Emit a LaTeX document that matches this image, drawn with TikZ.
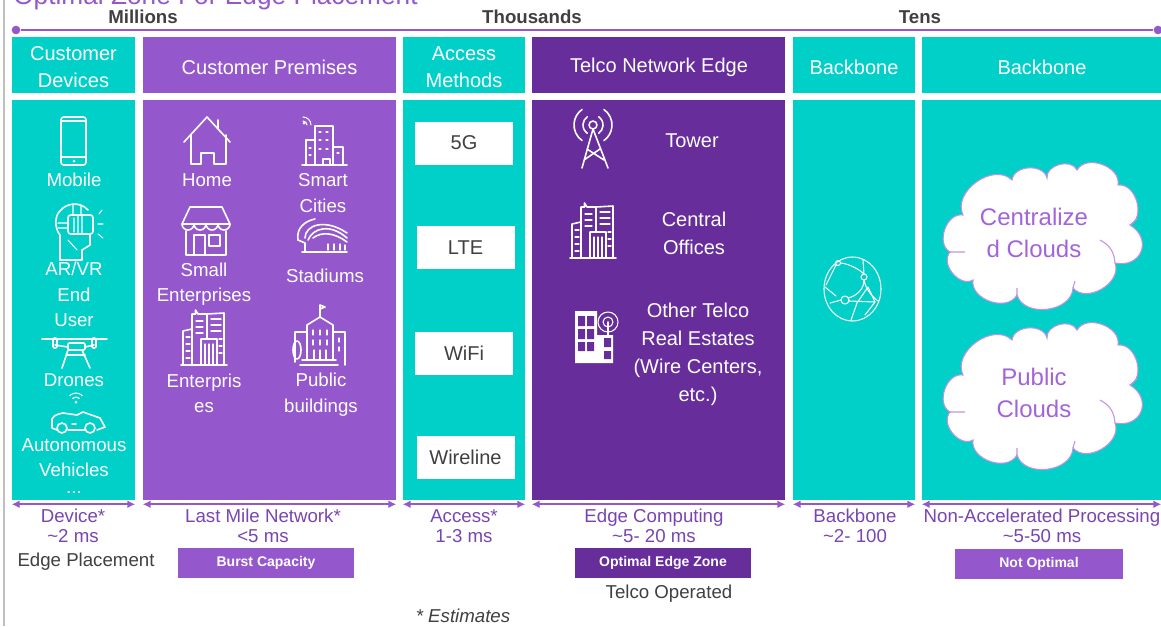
\documentclass[tikz,border=0pt]{standalone}
\usepackage{fontspec}
\setmainfont{Liberation Sans}
\usetikzlibrary{arrows.meta}
\definecolor{tealbox}{HTML}{00D0C8}
\definecolor{lilac}{HTML}{9558CC}
\definecolor{darkviolet}{HTML}{662D9B}
\definecolor{latency}{HTML}{7A45B0}
\definecolor{inktext}{HTML}{404040}
\definecolor{cloudtext}{HTML}{A264DA}
\tikzset{
  hcell/.style 2 args={minimum width=#1*0.75pt, minimum height=#2*0.75pt, inner sep=0pt, text=white, align=center, font=\fontsize{15}{20}\selectfont},
  hdr/.style={text=white, align=center, inner sep=0pt, font=\fontsize{15}{20}\selectfont},
  lbl/.style={text=white, align=center, inner sep=0pt, font=\fontsize{14}{19}\selectfont},
  telco/.style={text=white, align=center, inner sep=0pt, font=\fontsize{15}{21}\selectfont},
  acc/.style={hcell={98}{43}, fill=white, text=inktext},
  lat/.style={text=latency, align=center, inner sep=0pt, font=\fontsize{14}{15}\selectfont},
  ink/.style={text=inktext, inner sep=0pt, font=\fontsize{14}{16}\selectfont},
  scale lbl/.style={text=inktext, inner sep=0pt, font=\fontsize{14}{16}\selectfont\bfseries},
  tag/.style={hcell={#1}{30}, font=\fontsize{10.5}{12}\selectfont\bfseries},
  cloudlbl/.style={text=cloudtext, align=center, inner sep=0pt, font=\fontsize{18}{24}\selectfont},
  dot/.style={circle, fill=lilac, inner sep=0pt, minimum size=6.5pt},
  span/.style={lilac, line width=1.4pt, {Latex[length=6pt,width=6pt]}-{Latex[length=6pt,width=6pt]}},
  iconline/.style={white, line width=1.2pt, line join=round, line cap=round},
  thinline/.style={white, line width=0.8pt, line join=round, line cap=round},
  lobe/.style={bend left=80, looseness=1.1},
  pics/offices/.style={code={
    \draw[iconline] (0,55) -- (46,55);
    \draw[iconline] (11,19) -- (2,21) -- (2,55) (11,55) -- (11,4) -- (14.5,4) -- (14.5,0) -- (17,4) -- (26,4) -- (26,29);
    \draw[iconline] (26,4) -- (43,3) -- (43,55) (20,55) -- (20,29) -- (36,29) -- (36,55);
    \draw[thinline] (24,34) -- (24,55) (28,34) -- (28,55) (32,34) -- (32,55);
    \draw[thinline] (5,27) -- (9,27) (5,34) -- (9,34) (5,41) -- (9,41) (5,48) -- (9,48);
    \draw[thinline] (15,11) -- (22,11) (15,17) -- (22,17) (15,23) -- (22,23);
    \draw[thinline] (30,9) -- (40,9) (30,15) -- (40,15) (30,21) -- (40,21) (38,29) -- (41,29) (38,36) -- (41,36) (38,43) -- (41,43);
  }},
  pics/bigcloud/.style={code={
    \draw[fill=white, draw=cloudtext!70, line width=0.8pt]
      (-79,-22) to[lobe] (-30,-57) to[lobe] (5,-59) to[lobe] (35,-67) to[lobe] (76,-52)
      to[lobe] (88,-12) to[bend left=80, looseness=1.7] (73,26) to[lobe] (31,51) to[lobe] (-25,58)
      to[lobe] (-69,43) to[lobe] (-92,15) to[lobe] (-79,-22) -- cycle;
    \draw[draw=cloudtext!70, line width=0.8pt] (-92,15) -- (-77,15) (58,3) to[bend left=30] (73,26) (33,44) -- (31,51) (-25,51) -- (-25,58) (88,-12) -- (95,-18);
  }}
}
\begin{document}
\begin{tikzpicture}[x=0.75pt, y=-0.75pt]
  \clip (0,0) rectangle (1161,626);
  \fill[white] (0,0) rectangle (1161,626);
  \draw[black!25, line width=0.8pt] (4,0) -- (4,626);
  %title
  \draw (13,4) node[anchor=base west, inner sep=0pt, text=lilac, font=\fontsize{19.7}{22}\selectfont](title){Optimal Zone For Edge Placement};
  %scale
  \draw (143,17) node[scale lbl](s1){Millions}
  (532,17) node[scale lbl](s2){Thousands}
  (920,17) node[scale lbl](s3){Tens}
  (16,30) node[dot](ax1){}
  (1158,30) node[dot](ax2){};
  \draw[lilac, line width=1.5pt] (ax1) -- (ax2);
  %headers
  \draw (73.5,65) node[hcell={123}{56}, fill=tealbox](h1){}
  (269.5,65) node[hcell={253}{56}, fill=lilac](h2){}
  (464,65) node[hcell={122}{56}, fill=tealbox](h3){}
  (658.5,65) node[hcell={253}{56}, fill=darkviolet](h4){}
  (854,65) node[hcell={122}{56}, fill=tealbox](h5){}
  (1041.5,65) node[hcell={239}{56}, fill=tealbox](h6){};
  \draw (73.5,67) node[hdr](ht1){Customer\\Devices}
  (269.5,67) node[hdr](ht2){Customer Premises}
  (464,67) node[hdr](ht3){Access\\Methods}
  (659,67) node[hdr](ht4){Telco Network Edge}
  (854,67) node[hdr](ht5){Backbone}
  (1042,67) node[hdr](ht6){Backbone};
  %columns
  \draw (73.5,300) node[hcell={123}{400}, fill=tealbox](b1){}
  (269.5,300) node[hcell={253}{400}, fill=lilac](b2){}
  (464,300) node[hcell={122}{400}, fill=tealbox](b3){}
  (658.5,300) node[hcell={253}{400}, fill=darkviolet](b4){}
  (854,300) node[hcell={122}{400}, fill=tealbox](b5){}
  (1041.5,300) node[hcell={239}{400}, fill=tealbox](b6){};
  %spans
  \draw[span] ([yshift=-3pt]b1.south west) -- ([yshift=-3pt]b1.south east);
  \draw[span] ([yshift=-3pt]b2.south west) -- ([yshift=-3pt]b2.south east);
  \draw[span] ([yshift=-3pt]b3.south west) -- ([yshift=-3pt]b3.south east);
  \draw[span] ([yshift=-3pt]b4.south west) -- ([yshift=-3pt]b4.south east);
  \draw[span] ([yshift=-3pt]b5.south west) -- ([yshift=-3pt]b5.south east);
  \draw[span] ([yshift=-3pt]b6.south west) -- ([yshift=-3pt]b6.south east);
  %device labels
  \draw (74,180) node[lbl](mobile){Mobile}
  (74,294.5) node[lbl](arvr){AR/VR\\End\\User}
  (74,380) node[lbl](drones){Drones}
  (74,457.5) node[lbl](auto){Autonomous\\Vehicles}
  (74,492) node[lbl](more){...};
  %premises labels
  \draw (207,180) node[lbl](home){Home}
  (323,193) node[lbl](smart){Smart\\Cities}
  (204,284) node[lbl](small){Small\\Enterprises}
  (325,276) node[lbl](stadium){Stadiums}
  (204,393) node[lbl](enter){Enterpris\\es}
  (321,394.5) node[lbl](public){Public\\buildings};
  %access
  \draw (464,143) node[acc](a1){5G}
  (465.5,247.5) node[acc](a2){LTE}
  (464,353) node[acc](a3){WiFi}
  (465.5,457.5) node[acc](a4){Wireline};
  %telco labels
  \draw (692,141) node[telco](tower){Tower}
  (694,233.5) node[telco](central){Central\\Offices}
  (698,354.5) node[telco](other){Other Telco\\Real Estates\\(Wire Centers,\\etc.)};
  %clouds
  \draw (1042,237) pic{bigcloud};
  \draw (1042,397) pic{bigcloud};
  \draw (1034,233) node[cloudlbl](c1){Centralize\\d Clouds}
  (1034,393) node[cloudlbl](c2){Public\\Clouds};
  %latency
  \draw (73,526) node[lat](l1){Device*\\\textasciitilde2 ms}
  (263,526) node[lat](l2){Last Mile Network*\\<5 ms}
  (464,526) node[lat](l3){Access*\\1-3 ms}
  (654,526) node[lat](l4){Edge Computing\\\textasciitilde5- 20 ms}
  (855,526) node[lat](l5){Backbone\\\textasciitilde2- 100}
  (1042,526) node[lat](l6){Non-Accelerated Processing\\\textasciitilde5-50 ms};
  %tags
  \draw (86,561.5) node[ink](place){Edge Placement}
  (266,563) node[tag=176, fill=lilac](t1){Burst Capacity}
  (663,563) node[tag=176, fill=darkviolet](t2){Optimal Edge Zone}
  (1039,564) node[tag=168, fill=lilac](t3){Not Optimal}
  (669,594) node[ink](oper){Telco Operated}
  (463,616) node[ink, font=\fontsize{14}{16}\selectfont\itshape](est){* Estimates};
  %mobile
  \draw[iconline, rounded corners=2pt] (61,117) rectangle (86,165);
  \draw[thinline] (61,121) -- (86,121) (61,157) -- (86,157);
  \fill[white] (74,161) circle[radius=1.5];
  %head
  \draw[iconline] (60,260) -- (60,235) .. controls (54,228) and (55,215) .. (60,211) .. controls (66,203) and (80,201) .. (88,210);
  \draw[iconline] (60,260) -- (82,260) -- (82,250) -- (90,245) -- (90,235);
  \draw[iconline, rounded corners=2pt] (68,215) rectangle (93,234);
  \draw[thinline] (74,218) -- (74,232) (78,215) -- (78,234) (82,215) -- (82,234) (58,223) -- (68,223) (58,228) -- (68,228) (68,240) -- (77,250) (73,205) -- (73,215) (81,205) -- (81,215);
  \draw[thinline] (102,210) -- (99,214) (98,224) -- (103,224) (98,234) -- (103,238);
  %drone
  \draw[iconline] (42,339) -- (107,339) (55,345) -- (68,347) (94,345) -- (85,347);
  \draw[iconline, rounded corners=1pt] (53,338) rectangle (57,348) (92,338) rectangle (96,348) (68,343) rectangle (85,350);
  \draw[iconline] (68,350) -- (62,368) (82,350) -- (90,368) (67,355) -- (85,355);
  %wifi
  \fill[white] (76,402) circle[radius=1.5];
  \draw[thinline] (76,402) ++(-135:5) arc[start angle=-135, end angle=-45, radius=5];
  \draw[thinline] (76,402) ++(-135:9) arc[start angle=-135, end angle=-45, radius=9];
  %car
  \draw[iconline] (57,430) -- (52,428) -- (52,419) .. controls (54,415) and (58,414) .. (63,413) -- (77,415) -- (83,412) -- (100,418) -- (105,427) -- (97,430) (85,430) -- (68,430);
  \draw[iconline] (62,428) circle[radius=5] (90,428) circle[radius=5];
  \draw[thinline] (72,424) -- (76,424);
  %home
  \draw[iconline] (184,142) -- (207,117) -- (230,142) (218,120) -- (218,129);
  \draw[iconline] (191,135) -- (191,164) -- (201,164) -- (201,153) -- (214,153) -- (214,164) -- (226,164) -- (226,135);
  %smart city
  \draw[iconline] (302,165) -- (347,165);
  \draw[iconline] (315,165) -- (315,126) -- (333,126) -- (333,165) (315,140) -- (306,140) -- (306,165) (333,147) -- (343,147) -- (343,165) (323,165) -- (323,159) -- (330,159) -- (330,165);
  \draw[thinline] (319,132) -- (321,132) (326,132) -- (328,132) (319,140) -- (321,140) (326,140) -- (328,140) (319,149) -- (321,149) (326,149) -- (328,149) (309,148) -- (311,148) (309,155) -- (311,155) (337,153) -- (339,153);
  \draw[thinline] (303,125) ++(-90:4) arc[start angle=-90, end angle=0, radius=4];
  \draw[thinline] (303,125) ++(-90:8) arc[start angle=-90, end angle=0, radius=8];
  \fill[white] (304,123) circle[radius=1.5];
  %shop
  \draw[iconline] (190,207) -- (222,207) -- (230,224) -- (182,224) -- cycle;
  \draw[iconline] (182,224) arc[start angle=180, end angle=0, radius=6] arc[start angle=180, end angle=0, radius=6] arc[start angle=180, end angle=0, radius=6] arc[start angle=180, end angle=0, radius=6];
  \draw[iconline] (186,231) -- (186,255) -- (226,255) -- (226,231) (194,255) -- (194,235) -- (205,235) -- (205,255);
  \draw[iconline] (209,235) rectangle (220,246);
  %stadium
  \draw[iconline] (298,240) .. controls (296,228) and (305,221) .. (315,219) (305,238) .. controls (305,225) and (325,218) .. (347,233) (308,240) .. controls (313,228) and (330,223) .. (347,238) (313,238) .. controls (322,231) and (335,233) .. (347,242);
  \draw[iconline] (298,240) -- (305,243) -- (305,252) (302,252) -- (347,252);
  \draw[thinline] (328,244) -- (328,250) (334,244) -- (334,250) (340,244) -- (340,250) (345,245) -- (345,250);
  %enterprises
  \draw (181,310) pic{offices};
  %public building
  \draw[iconline] (295,362) -- (295,332) -- (307,332) (307,360) -- (307,325) -- (320,317) -- (333,325) -- (333,360) (333,332) -- (345,332) -- (345,365);
  \draw[iconline] (302,360) -- (336,360) (300,365) -- (338,365) (320,317) -- (320,305) -- (325,307) -- (320,309);
  \draw[iconline] (297,350) ellipse[x radius=4, y radius=9];
  \draw[thinline] (313,330) -- (313,335) (320,330) -- (320,335) (327,330) -- (327,335) (313,340) -- (313,345) (320,340) -- (320,345) (327,340) -- (327,345) (314,350) -- (314,360) (320,350) -- (320,360) (326,350) -- (326,360) (339,338) -- (339,342) (339,347) -- (339,351);
  %tower
  \draw[iconline] (593,125) circle[radius=4];
  \draw[iconline] (593,125) ++(-55:10) arc[start angle=-55, end angle=55, radius=10];
  \draw[iconline] (593,125) ++(125:10) arc[start angle=125, end angle=235, radius=10];
  \draw[iconline] (593,125) ++(-55:19) arc[start angle=-55, end angle=55, radius=19];
  \draw[iconline] (593,125) ++(125:19) arc[start angle=125, end angle=235, radius=19];
  \draw[iconline] (593,129) -- (582,168) (593,129) -- (608,168) (587,149) -- (604,160) (600,149) -- (584,160);
  %central offices
  \draw (570,203) pic{offices};
  %other estates
  \fill[white] (575,311) rectangle (597,363) (597,335) rectangle (613,363);
  \fill[darkviolet] (578,316) rectangle (585,326) (587,316) rectangle (594,326) (578,329) rectangle (585,339) (587,329) rectangle (594,339) (578,342) rectangle (585,351) (587,342) rectangle (594,351) (604,338) rectangle (611,347) (604,351) rectangle (611,359);
  \draw[thinline] (608,322) circle[radius=5] (608,322) circle[radius=10];
  \draw[iconline] (608,322) -- (608,336);
  %globe
  \draw[thinline] (852.5,289) ellipse[x radius=28.5, y radius=32];
  \draw[thinline] (838,263) circle[radius=2.5] (864,277) circle[radius=3] (845,300) circle[radius=4];
  \draw[thinline] (841,263) .. controls (850,264) and (860,270) .. (864,274) (864,280) .. controls (866,290) and (872,296) .. (878,301) (863,260) -- (864,274);
  \draw[thinline] (836,265) -- (826,285) (825,287) -- (836,296) (848,298) .. controls (856,296) and (864,290) .. (864,280);
  \draw[thinline] (830,303) -- (841,300) (849,301) -- (875,302) (868,287) -- (857,303) -- (851,320) (868,287) -- (875,302) -- (865,315);
\end{tikzpicture}
\end{document}
